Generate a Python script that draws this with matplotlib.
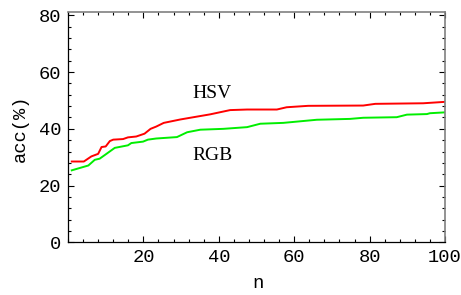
import matplotlib
matplotlib.use("Agg")
import matplotlib.pyplot as plt
from matplotlib.ticker import MultipleLocator

# values (n, accuracy %)
hsv_n = [1, 4.2, 6.2, 8.0, 8.9, 10, 11.1, 12, 14.6, 15.9, 18.1, 20.3, 21.9, 23.4,
         25.4, 29.8, 33.3, 37.7, 43, 47.5, 51, 55.4, 58, 63.7, 78.3, 81.5, 94.2, 100]
hsv_acc = [28.5, 28.5, 30.3, 31.2, 33.6, 33.8, 35.7, 36.2, 36.4, 37.0, 37.3, 38.3, 40.0, 40.8,
           42.1, 43.3, 44.1, 45.1, 46.6, 46.8, 46.8, 46.8, 47.6, 48.1, 48.2, 48.8, 49.0, 49.5]

rgb_n = [1, 5.4, 7.1, 8.4, 10.2, 12.4, 15.9, 16.8, 19.9, 21.2, 23.4, 28.9, 31.6, 35.1,
         41.2, 47.5, 51, 57.1, 66, 74.8, 78.3, 87.2, 89.9, 95.2, 96, 100]
rgb_acc = [25.4, 27.1, 29.1, 29.5, 31.2, 33.3, 34.2, 35.0, 35.5, 36.2, 36.6, 37.1, 38.8, 39.7,
           40.0, 40.6, 41.8, 42.1, 43.2, 43.5, 43.9, 44.1, 45.0, 45.2, 45.5, 45.8]

xticks = [20, 40, 60, 80, 100]
yticks = [0, 20, 40, 60, 80]

fig = plt.figure(figsize=(4.61, 2.95), dpi=100)
ax = fig.add_axes([0.1475, 0.178, 0.8178, 0.783])

ax.plot(hsv_n, hsv_acc, color="#ff0000", lw=1.4)
ax.plot(rgb_n, rgb_acc, color="#00ee00", lw=1.4)

ax.text(38.3, 52.6, "HSV", family="Liberation Serif", fontsize=14, ha="center", va="center")
ax.text(38.3, 30.5, "RGB", family="Liberation Serif", fontsize=14, ha="center", va="center")

ax.set_xlim(0, 100)
ax.set_ylim(0, 81.3)
ax.set_xticks(xticks)
ax.set_yticks(yticks)
ax.xaxis.set_minor_locator(MultipleLocator(4))
ax.yaxis.set_minor_locator(MultipleLocator(4))
ax.tick_params(which="both", direction="in", top=True, right=True, width=0.8, pad=5)
ax.tick_params(which="major", length=4, labelsize=13.5)
ax.tick_params(which="minor", length=2)
for lab in ax.get_xticklabels() + ax.get_yticklabels():
    lab.set_family("Liberation Mono")

for s in ["left", "bottom"]:
    ax.spines[s].set_color("black")
    ax.spines[s].set_linewidth(0.9)
for s in ["top", "right"]:
    ax.spines[s].set_color("#808080")
    ax.spines[s].set_linewidth(1.2)

fig.text(20 / 461, 1 - 128 / 295, "acc(%)", family="Liberation Mono", fontsize=13.5,
         rotation=90, ha="center", va="center")
fig.text(258 / 461, 1 - 283 / 295, "n", family="Liberation Mono", fontsize=13.5,
         ha="center", va="center")

fig.savefig("out.png", dpi=100)
